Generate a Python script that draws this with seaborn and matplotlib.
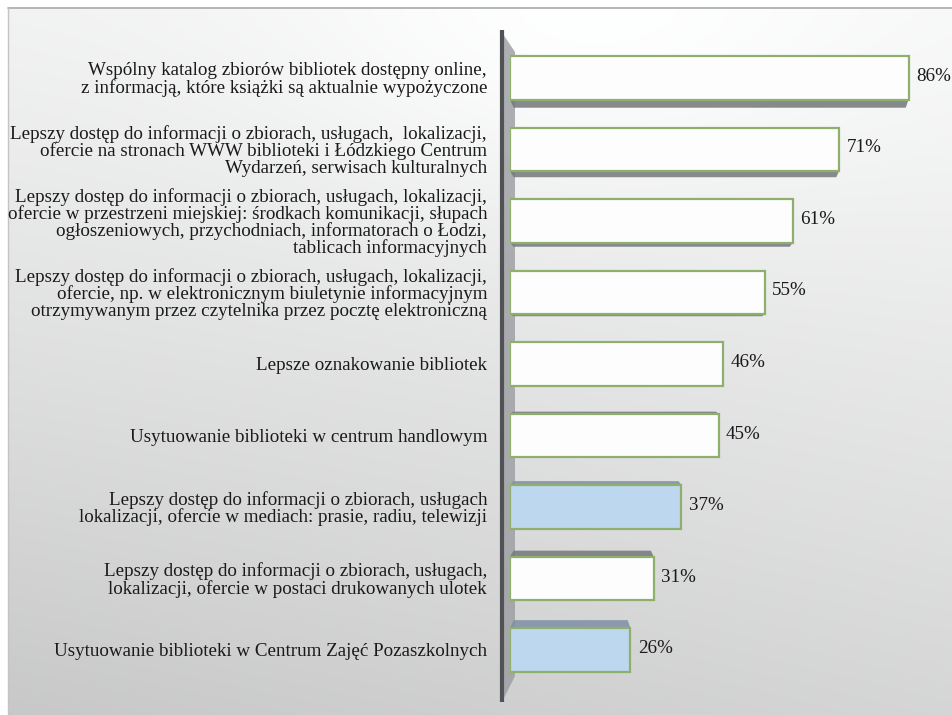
import numpy as np
import pandas as pd
import matplotlib
matplotlib.use("Agg")
import matplotlib.pyplot as plt
from matplotlib.patches import Polygon
import seaborn as sns

labels = [
    "Wspólny katalog zbiorów bibliotek dostępny online,\nz informacją, które książki są aktualnie wypożyczone",
    "Lepszy dostęp do informacji o zbiorach, usługach,  lokalizacji,\nofercie na stronach WWW biblioteki i Łódzkiego Centrum\nWydarzeń, serwisach kulturalnych",
    "Lepszy dostęp do informacji o zbiorach, usługach, lokalizacji,\nofercie w przestrzeni miejskiej: środkach komunikacji, słupach\nogłoszeniowych, przychodniach, informatorach o Łodzi,\ntablicach informacyjnych",
    "Lepszy dostęp do informacji o zbiorach, usługach, lokalizacji,\nofercie, np. w elektronicznym biuletynie informacyjnym\notrzymywanym przez czytelnika przez pocztę elektroniczną",
    "Lepsze oznakowanie bibliotek",
    "Usytuowanie biblioteki w centrum handlowym",
    "Lepszy dostęp do informacji o zbiorach, usługach\nlokalizacji, ofercie w mediach: prasie, radiu, telewizji",
    "Lepszy dostęp do informacji o zbiorach, usługach,\nlokalizacji, ofercie w postaci drukowanych ulotek",
    "Usytuowanie biblioteki w Centrum Zajęć Pozaszkolnych",
]
values = [86, 71, 61, 55, 46, 45, 37, 31, 26]
highlight = [False, False, False, False, False, False, True, False, True]

WHITE_FACE = "#fdfdfd"
BLUE_FACE = "#bdd7ef"
EDGE = "#8fb06c"
FONT_SIZE = 13.7

df = pd.DataFrame({"label": labels, "value": values,
                   "group": ["b" if h else "w" for h in highlight]})

sns.set_theme(style="white")
plt.rcParams["font.family"] = ["Liberation Serif", "DejaVu Serif"]

W, H = 953, 715
fig = plt.figure(figsize=(W / 100, H / 100), dpi=100)
fig.patch.set_facecolor("white")

# soft grey gradient backdrop with a thin frame line
bg = fig.add_axes([0, 0, 1, 1], zorder=-10)
yy, xx = np.mgrid[0:1:300j, 0:1:400j]
light = 0.965 - 0.13 * yy ** 1.2 - 0.035 * (1 - xx) * (0.5 + yy) \
        + 0.04 * np.exp(-((xx - 0.6) ** 2 / 0.1 + (yy - 0.05) ** 2 / 0.06))
light = np.clip(light, 0, 1)
bg.imshow(np.dstack([light, light * 1.002, light * 1.002]).clip(0, 1),
          extent=[8 / W, 1, 0.0 / H, 1 - 8 / H], aspect="auto",
          transform=bg.transAxes, interpolation="bicubic")
bg.plot([8 / W, 1], [1 - 8 / H, 1 - 8 / H], color="#a9a9a9", lw=1.2,
        transform=bg.transAxes)
bg.plot([8 / W, 8 / W], [0, 1 - 8 / H], color="#c4c4c4", lw=1.0,
        transform=bg.transAxes)
bg.set_xlim(0, 1)
bg.set_ylim(0, 1)
bg.axis("off")

# the side wall of the chart
wall = fig.add_axes([0, 0, 1, 1], zorder=-5)
wall.set_xlim(0, W)
wall.set_ylim(H, 0)
wall.axis("off")
wall.add_patch(Polygon([[503, 34], [515, 52], [515, 676], [503, 700]],
                       closed=True, facecolor="#9a9ca0", edgecolor="none",
                       alpha=0.8))
wall.plot([502, 502], [30, 702], color="#505256", lw=3.0,
          solid_capstyle="butt")

ax = fig.add_axes([510 / W, 1 - 700 / H, 443 / W, 670 / H])
ax.patch.set_alpha(0)

sns.barplot(data=df, y="label", x="value", hue="group", orient="h",
            palette={"w": WHITE_FACE, "b": BLUE_FACE}, width=0.61,
            dodge=False, legend=False, ax=ax, saturation=1,
            edgecolor=EDGE, linewidth=1.6, zorder=3)

ax.set_xlim(0, 95.6)
ax.set_ylim(8.7, -0.67)

# depth faces: bars above the middle show their underside, bars below their top
for i, (v, h) in enumerate(zip(values, highlight)):
    half = 0.61 / 2
    dy = (4 - i) * 0.028
    edge_y = i + half if dy > 0 else i - half
    shade = "#7f8fa6" if h else "#74777b"
    poly = Polygon([[0, edge_y], [v, edge_y],
                    [v - 0.6, edge_y + dy], [0.8, edge_y + dy]],
                   closed=True, facecolor=shade, edgecolor="none",
                   alpha=0.85, zorder=2)
    ax.add_patch(poly)

for i, v in enumerate(values):
    ax.text(v + 1.6, i - 0.02, f"{v}%", va="center", ha="left",
            fontsize=FONT_SIZE, color="#1a1a1a")

ax.set_xlabel("")
ax.set_ylabel("")
ax.set_xticks([])
ax.tick_params(axis="y", length=0, pad=16.5)
for t in ax.get_yticklabels():
    t.set_fontsize(FONT_SIZE)
    t.set_color("#1a1a1a")
    t.set_multialignment("right")
    t.set_linespacing(0.95)
for s in ax.spines.values():
    s.set_visible(False)

fig.savefig("out.png", dpi=100)
